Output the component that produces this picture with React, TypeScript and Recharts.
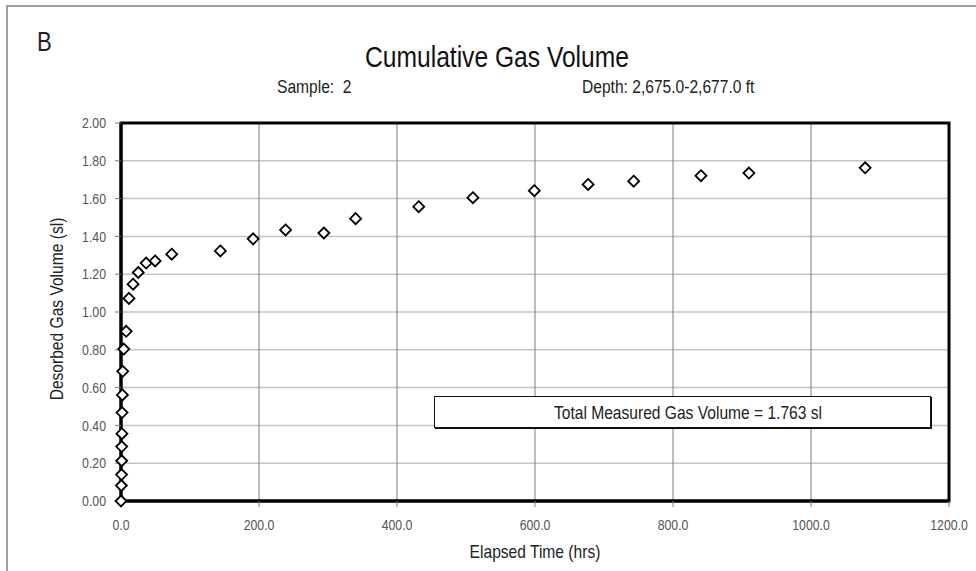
import type { ReactNode } from "react";
import { ScatterChart, Scatter, XAxis, YAxis, CartesianGrid, ReferenceArea } from "recharts";

// Desorption canister readings: elapsed time (hrs) vs cumulative desorbed gas (sl)
const elapsedHours = [
  0, 0.5, 0.8, 1.0, 1.0, 1.3, 1.5, 2.0, 2.5, 4.0, 7.5, 11.5, 17.5, 25, 36.5, 49.5, 73.5,
  144, 191.5, 238.5, 294, 340, 431.5, 510, 599, 677, 743, 840.5, 910, 1078.5,
];
const gasVolume = [
  0.0, 0.082, 0.14, 0.213, 0.288, 0.356, 0.468, 0.561, 0.686, 0.804, 0.898, 1.072, 1.147, 1.209,
  1.259, 1.27, 1.306, 1.323, 1.387, 1.434, 1.418, 1.494, 1.557, 1.605, 1.642, 1.675, 1.692,
  1.721, 1.735, 1.763,
];
const xTicks = [0, 200, 400, 600, 800, 1000, 1200];
const yTicks = [0, 0.2, 0.4, 0.6, 0.8, 1.0, 1.2, 1.4, 1.6, 1.8, 2.0];

const sampleLabel = "Sample:  2";
const depthLabel = "Depth: 2,675.0-2,677.0 ft";
const totalVolume = gasVolume[gasVolume.length - 1];

// no Arial Narrow here, so squeeze Liberation Sans (Arial metrics) horizontally
const FONT = "'Liberation Sans', Arial, sans-serif";
const SQUEEZE = 0.82;

const points = elapsedHours.map((x, i) => ({ x, y: gasVolume[i] }));

function Diamond(props: any) {
  const { cx, cy } = props;
  if (cx == null || cy == null) return null;
  const r = 5.5;
  return (
    <path
      d={`M${cx},${cy - r}L${cx + r},${cy}L${cx},${cy + r}L${cx - r},${cy}Z`}
      fill="#fff"
      stroke="#000"
      strokeWidth={1.8}
    />
  );
}

function NarrowTick(props: any) {
  const { x, y, payload, textAnchor, digits, dy } = props;
  return (
    <g transform={`translate(${x},${y}) scale(${SQUEEZE},1)`}>
      <text textAnchor={textAnchor} dy={dy} fontFamily={FONT} fontSize={15} fill="#555">
        {Number(payload.value).toFixed(digits)}
      </text>
    </g>
  );
}

// text whose top edge sits at `top`; anchor picks which edge `x` refers to
function Label({ x, top, size, anchor = "start", color = "#222", children }: {
  x: number; top: number; size: number; anchor?: "start" | "middle"; color?: string; children: ReactNode;
}) {
  const shift = anchor === "middle" ? "translateX(-50%) " : "";
  return (
    <div
      style={{
        position: "absolute", left: x, top, fontFamily: FONT, fontSize: size, lineHeight: 1, color,
        whiteSpace: "pre", transform: `${shift}scaleX(${SQUEEZE})`,
        transformOrigin: anchor === "middle" ? "center" : "left",
      }}
    >
      {children}
    </div>
  );
}

export default function App() {
  return (
    <div style={{ position: "absolute", left: 0, top: 0, width: 976, height: 571, background: "#fff", overflow: "hidden" }}>
      {/* page frame */}
      <div style={{ position: "absolute", left: 6, top: 5, width: 976, height: 571, borderTop: "2px solid #a0a0a0", borderLeft: "2px solid #a0a0a0" }} />

      <Label x={37} top={29} size={27}>B</Label>
      <Label x={497} top={42} size={30} anchor="middle" color="#111">Cumulative Gas Volume</Label>
      <Label x={277} top={77} size={19}>{sampleLabel}</Label>
      <Label x={582} top={77} size={19}>{depthLabel}</Label>

      <ScatterChart width={976} height={571} margin={{ top: 123, right: 27, bottom: 40, left: 61 }} style={{ position: "absolute", left: 0, top: 0 }}>
        <CartesianGrid vertical={false} stroke="#c4c4c4" strokeWidth={1.5} />
        <CartesianGrid horizontal={false} stroke="#7a7a7a" strokeWidth={1} />
        <XAxis
          type="number"
          dataKey="x"
          domain={[0, 1200]}
          ticks={xTicks}
          height={30}
          tick={<NarrowTick digits={1} dy="0.71em" />}
          tickSize={6}
          tickMargin={12}
          axisLine={{ stroke: "#000", strokeWidth: 3 }}
          tickLine={{ stroke: "#777" }}
        />
        <YAxis
          type="number"
          dataKey="y"
          domain={[0, 2]}
          ticks={yTicks}
          width={60}
          tick={<NarrowTick digits={2} dy="0.35em" />}
          tickSize={6}
          tickMargin={9}
          axisLine={{ stroke: "#000", strokeWidth: 3 }}
          tickLine={{ stroke: "#777" }}
        />
        <ReferenceArea x1={0} x2={1200} y1={0} y2={2} fill="none" stroke="#000" strokeWidth={3} />
        <Scatter data={points} shape={Diamond} isAnimationActive={false} />
      </ScatterChart>

      <div
        style={{
          position: "absolute", left: 434, top: 396, width: 497, height: 32, background: "#fff",
          border: "1px solid #111", boxShadow: "1px 1px 0 #111", boxSizing: "border-box",
        }}
      />
      <Label x={688} top={403} size={19} anchor="middle">
        Total Measured Gas Volume = {totalVolume.toFixed(3)} sl
      </Label>

      <Label x={535} top={542} size={19} anchor="middle">Elapsed Time (hrs)</Label>
      <div
        style={{
          position: "absolute", left: 56, top: 309, transform: `translate(-50%, -50%) rotate(-90deg) scaleX(${SQUEEZE})`,
          fontFamily: FONT, fontSize: 19, lineHeight: 1, color: "#222", whiteSpace: "nowrap",
        }}
      >
        Desorbed Gas Volume (sl)
      </div>
    </div>
  );
}
